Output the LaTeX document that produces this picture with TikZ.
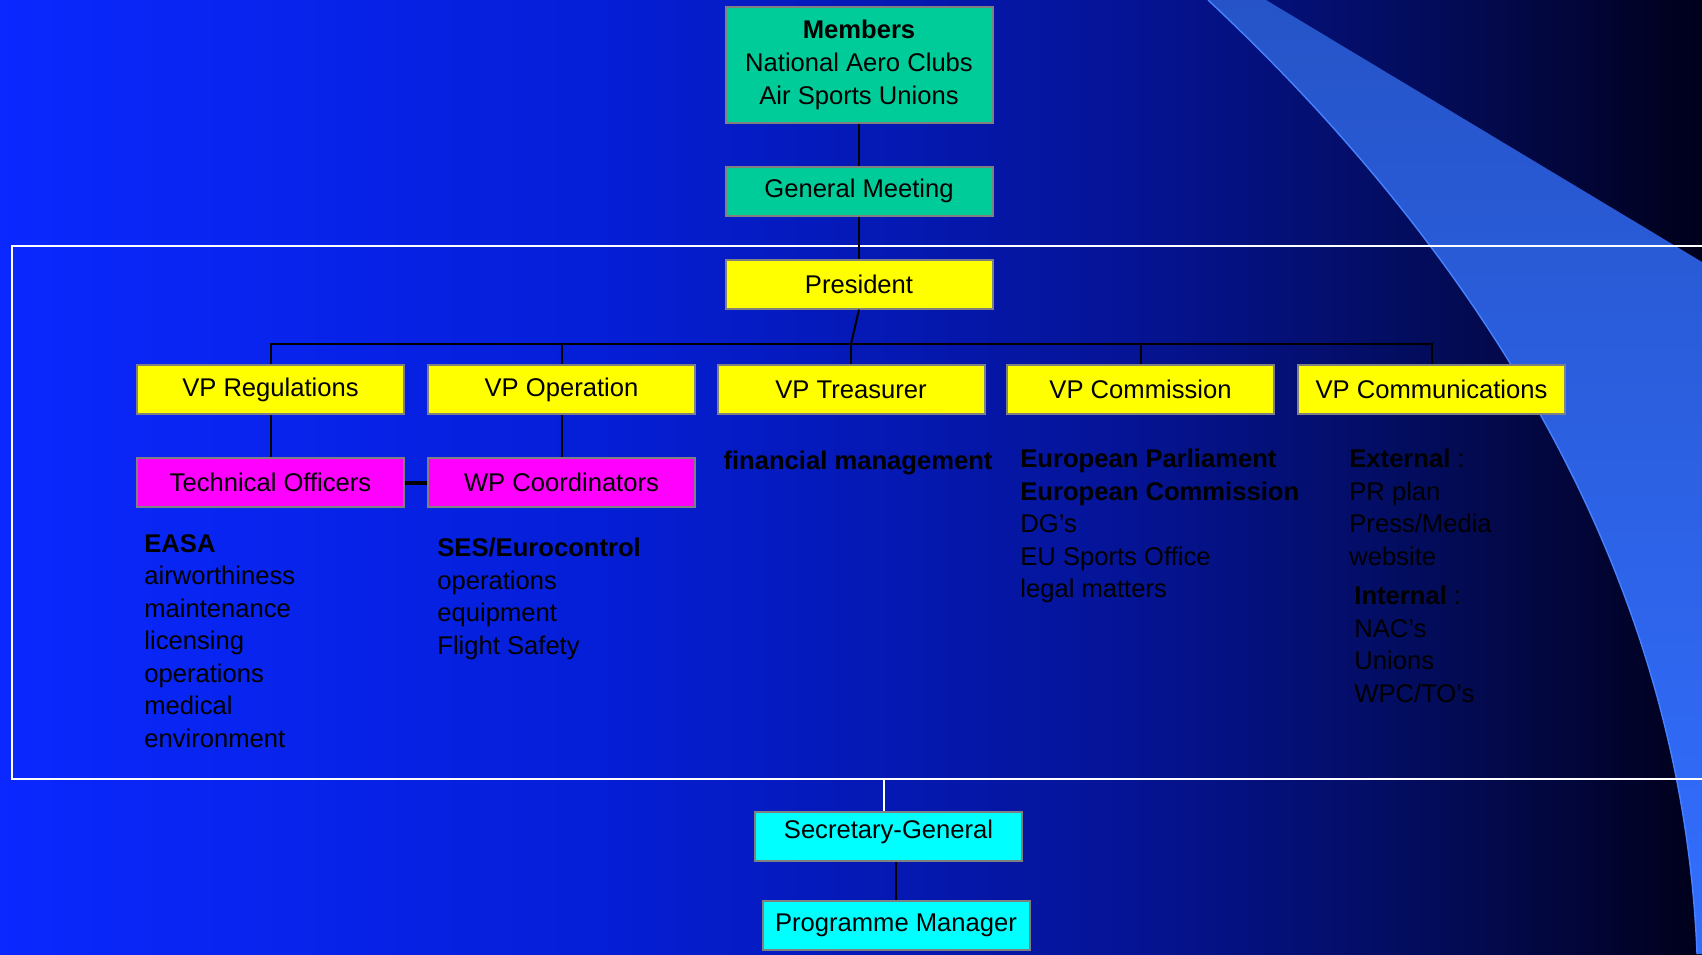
\documentclass[tikz,border=0pt]{standalone}
\usepackage{fontspec}
\setmainfont{Liberation Sans}
\usetikzlibrary{positioning}
\definecolor{swooshtop}{RGB}{38,84,200}
\definecolor{swooshmid}{RGB}{46,104,242}
\definecolor{swooshlow}{RGB}{50,110,255}
\definecolor{swooshedge}{RGB}{70,130,255}
\definecolor{boxline}{RGB}{128,128,128}
\definecolor{clubgreen}{RGB}{0,204,153}
\definecolor{officeyellow}{RGB}{255,255,0}
\definecolor{wpmagenta}{RGB}{255,0,255}
\definecolor{staffcyan}{RGB}{0,255,255}
% slide background, bright blue fading to black
\pgfdeclarehorizontalshading{slidebg}{100bp}{
rgb(0bp)=(0.04,0.157,1);
rgb(25bp)=(0.04,0.157,1);
rgb(42.5bp)=(0.02,0.118,0.843);
rgb(58bp)=(0.02,0.078,0.588);
rgb(67bp)=(0.012,0.047,0.353);
rgb(71.5bp)=(0.008,0.02,0.216);
rgb(75bp)=(0,0,0.1);
rgb(100bp)=(0,0,0.1)}
\tikzset{
box/.style={ % Sets the properties for each office
draw=boxline,
line width=1pt,
minimum width=133.5pt,
minimum height=24.5pt,
inner sep=0pt,
align=center,
font=\fontsize{12.8}{16.25}\selectfont},
notes/.style={ % Task lists under the offices
anchor=north west,
inner sep=0pt,
align=left,
font=\fontsize{12.8}{16.25}\selectfont},
link/.style={draw=black, line width=1pt}}

\begin{document}
\begin{tikzpicture}[x=0.5pt, y=-0.5pt]
	\useasboundingbox (0,0) rectangle (1702,954);
	\clip (0,0) rectangle (1702,954);
	% background
	\shade[shading=slidebg] (0,0) rectangle (1702,954);
	\shade[top color=swooshtop, middle color=swooshmid, bottom color=swooshlow]
		(1208,0) -- (1266,0) -- (1702,262) -- (1702,954) -- (1697,954)
		.. controls (1682,570) and (1475,250) .. (1208,0) -- cycle;
	\draw[swooshedge, line width=0.7pt] (1208,0) .. controls (1475,250) and (1682,570) .. (1697,954);
	\draw[white, line width=1pt] (12,246) rectangle (1730,779);
	\coordinate (frameS) at (884,779);
	% offices
	\node[box, fill=clubgreen, minimum height=58pt, font=\fontsize{12.8}{16.5}\selectfont] (members) at (859,65) {\textbf{Members}\\National Aero Clubs\\Air Sports Unions};
	\node[box, fill=clubgreen] (gm) at (859,191) {General Meeting};
	\node[box, fill=officeyellow] (pres) at (859,284) {President};
	\node[box, fill=officeyellow] (vreg) at (270.5,389.5) {VP Regulations};
	\node[box, fill=officeyellow] (vop) at (561.5,389.5) {VP Operation};
	\node[box, fill=officeyellow] (vtr) at (851,389.5) {VP Treasurer};
	\node[box, fill=officeyellow] (vcom) at (1140.5,389.5) {VP Commission};
	\node[box, fill=officeyellow] (vcomm) at (1431.5,389.5) {VP Communications};
	\node[box, fill=wpmagenta] (techoff) at (270.5,482.5) {Technical Officers};
	\node[box, fill=wpmagenta] (wpcoord) at (561.5,482.5) {WP Coordinators};
	\node[box, fill=staffcyan, text depth=7pt] (secgen) at (888.5,836.5) {Secretary-General};
	\node[box, fill=staffcyan] (progman) at (896,925) {Programme Manager};
	\coordinate (bus) at (851,344);
	% links
	\draw[link] (members) -- (gm);
	\draw[link] (gm) -- (pres);
	\draw[link] (pres.south) -- (bus);
	\draw[link] (vreg.north) -- (vreg.north |- bus) -- (vcomm.north |- bus) -- (vcomm.north);
	\foreach \n in {vop,vtr,vcom}
		\draw[link] (\n.north) -- (\n.north |- bus);
	\draw[link] (vreg) -- (techoff);
	\draw[link] (vop) -- (wpcoord);
	\draw[line width=2pt] (techoff.east) -- (wpcoord.west);
	\draw[white, line width=1pt] (frameS) -- (frameS |- secgen.north);
	\draw[link] (secgen.south -| progman) -- (progman.north);
	% task lists
	\node[notes] (easa) at (144,534) {\textbf{EASA}\\airworthiness\\maintenance\\licensing\\operations\\medical\\environment};
	\node[notes] (ses) at (437,538) {\textbf{SES/Eurocontrol}\\operations\\equipment\\Flight Safety};
	\node[notes, anchor=center] (finance) at (858,463) {\textbf{financial management}};
	\node[notes] (europe) at (1020,449) {\textbf{European Parliament}\\\textbf{European Commission}\\DG's\\EU Sports Office\\legal matters};
	\node[notes] (external) at (1349,449) {\textbf{External} :\\PR plan\\Press/Media\\website};
	\node[notes] (internal) at (1354,586) {\textbf{Internal} :\\NAC's\\Unions\\WPC/TO's};
\end{tikzpicture}
\end{document}
